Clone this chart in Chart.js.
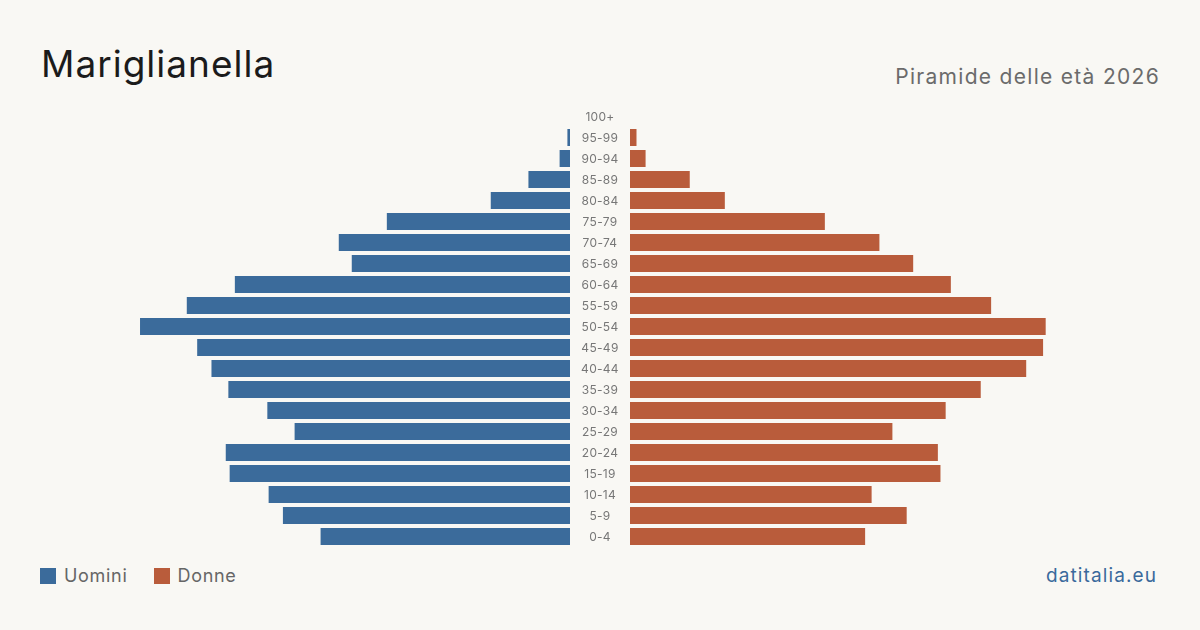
<!DOCTYPE html>
<html lang="it">
<head>
<meta charset="utf-8">
<script src="https://cdn.jsdelivr.net/npm/chart.js@4/dist/chart.umd.min.js"></script>
<style>
  html, body { margin: 0; padding: 0; }
  body {
    width: 1200px; height: 630px; position: relative; overflow: hidden;
    background: #f9f8f4;
    font-family: Inter, "Noto Sans", sans-serif;
  }
  .title { position: absolute; left: 41px; top: 41px; font-size: 37px; color: #1b1b1b; letter-spacing: 1px; }
  .subtitle { position: absolute; right: 40px; top: 64px; font-size: 21px; color: #6b6b6b; letter-spacing: 1.3px; }
  .box { position: absolute; }
  .legend { position: absolute; left: 40px; top: 565px; font-size: 18px; color: #666; display: flex; align-items: center; letter-spacing: 0.7px; }
  .legend span.sw { display: inline-block; width: 16px; height: 16px; margin-right: 8px; }
  .legend span.item { display: inline-flex; align-items: center; margin-right: 26px; }
  .brand { position: absolute; right: 43px; top: 564px; font-size: 19px; color: #3a6a9c; letter-spacing: 1.1px; }
</style>
</head>
<body>
<div class="title">Mariglianella</div>
<div class="subtitle">Piramide delle età 2026</div>

<div class="box" style="left:40px; top:106px; width:590px; height:441px;"><canvas id="men"></canvas></div>
<div class="box" style="left:630px; top:106px; width:530px; height:441px;"><canvas id="women"></canvas></div>

<div class="legend">
  <span class="item"><span class="sw" style="background:#3b6b9b"></span>Uomini</span>
  <span class="item"><span class="sw" style="background:#b95c3b"></span>Donne</span>
</div>
<div class="brand">datitalia.eu</div>

<script>
const ageGroups = ['100+','95-99','90-94','85-89','80-84','75-79','70-74','65-69','60-64','55-59',
  '50-54','45-49','40-44','35-39','30-34','25-29','20-24','15-19','10-14','5-9','0-4'];
const men   = [0, 2, 8, 32, 61, 141, 178, 168, 258, 295, 331, 287, 276, 263, 233, 212, 265, 262, 232, 221, 192];
const women = [0, 5, 12, 46, 73, 150, 192, 218, 247, 278, 320, 318, 305, 270, 243, 202, 237, 239, 186, 213, 181];
const AXIS_MAX = 408;

const BLUE = '#3b6b9b';
const ORANGE = '#b95c3b';

// etichette delle età nella colonna centrale (tra le due metà)
const AgeLabels = {
  id: 'AgeLabels',
  afterDraw(chart) {
    const { ctx, chartArea } = chart;
    const y = chart.scales.y;
    const cx = chartArea.right + 30;
    ctx.save();
    ctx.fillStyle = '#777';
    ctx.font = '12px Inter, "Noto Sans", sans-serif';
    ctx.textAlign = 'center';
    ctx.textBaseline = 'middle';
    if ('letterSpacing' in ctx) ctx.letterSpacing = '0.3px';
    ageGroups.forEach((lab, i) => {
      ctx.fillText(lab, cx, y.getPixelForValue(i) + 0.5);
    });
    ctx.restore();
  }
};

function baseOptions(reverse, padRight) {
  return {
    indexAxis: 'y',
    responsive: true,
    maintainAspectRatio: false,
    animation: false,
    layout: { padding: { top: 0, bottom: 0, left: 0, right: padRight } },
    plugins: { legend: { display: false }, tooltip: { enabled: false } },
    scales: {
      x: { display: false, min: 0, max: AXIS_MAX, reverse: reverse },
      y: { display: false }
    }
  };
}

new Chart(document.getElementById('men'), {
  type: 'bar',
  data: {
    labels: ageGroups,
    datasets: [{ data: men, backgroundColor: BLUE, categoryPercentage: 0.81, barPercentage: 1 }]
  },
  options: baseOptions(true, 60),
  plugins: [AgeLabels]
});

new Chart(document.getElementById('women'), {
  type: 'bar',
  data: {
    labels: ageGroups,
    datasets: [{ data: women, backgroundColor: ORANGE, categoryPercentage: 0.81, barPercentage: 1 }]
  },
  options: baseOptions(false, 0)
});
</script>
</body>
</html>
